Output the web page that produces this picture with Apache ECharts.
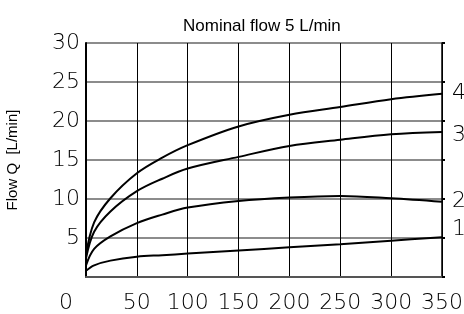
<!DOCTYPE html>
<html>
<head>
<meta charset="utf-8">
<script src="https://cdn.jsdelivr.net/npm/echarts@6/dist/echarts.min.js"></script>
<style>
  html, body { margin: 0; padding: 0; background: #fff; }
  #chart { width: 464px; height: 314px; }
</style>
</head>
<body>
<div id="chart"></div>
<script>
  // flow curves (x = pressure, y = flow Q)
  var xs = [0, 8, 24, 50, 75, 100, 150, 200, 250, 300, 350];
  var curve1 = [0.8, 1.5, 2.1, 2.6, 2.8, 3.0, 3.4, 3.8, 4.2, 4.65, 5.1];
  var curve2 = [1.5, 3.6, 5.2, 6.9, 8.0, 8.9, 9.75, 10.2, 10.4, 10.1, 9.65];
  var curve3 = [2.4, 5.8, 8.4, 11.0, 12.6, 13.9, 15.4, 16.8, 17.6, 18.3, 18.6];
  var curve4 = [2.8, 7.0, 10.1, 13.3, 15.3, 16.9, 19.3, 20.8, 21.8, 22.8, 23.5];
  var curveNames = ['1', '2', '3', '4'];
  var endOffsets = [[0, -8], [0, 0], [0, 3], [0, 0]];

  var digitFont = 'DejaVu Sans';

  function pairs(ys) {
    var out = [];
    for (var i = 0; i < xs.length; i++) {
      out.push([xs[i], ys[i]]);
    }
    return out;
  }

  var allCurves = [curve1, curve2, curve3, curve4];
  var series = [];
  for (var i = 0; i < allCurves.length; i++) {
    series.push({
      name: curveNames[i],
      type: 'line',
      smooth: 0.35,
      showSymbol: false,
      silent: true,
      lineStyle: { color: '#000', width: 2 },
      endLabel: {
        show: true,
        formatter: '{a}',
        distance: 10,
        offset: endOffsets[i],
        color: '#000',
        fontFamily: digitFont,
        fontWeight: 200,
        fontSize: 22
      },
      data: pairs(allCurves[i])
    });
  }

  var chart = echarts.init(document.getElementById('chart'));
  chart.setOption({
    animation: false,
    title: {
      text: 'Nominal flow 5 L/min',
      left: 178,
      top: 13,
      textStyle: { fontFamily: 'Liberation Sans', fontSize: 17, fontWeight: 'normal', color: '#000' }
    },
    grid: { left: 86, right: 22, top: 43, bottom: 37, outerBoundsMode: 'none' },
    xAxis: {
      type: 'value',
      min: 0,
      max: 350,
      interval: 50,
      axisLine: { lineStyle: { color: '#555', width: 2 } },
      axisTick: { show: false },
      splitLine: { show: true, lineStyle: { color: '#000', width: 1 } },
      axisLabel: {
        margin: 15,
        color: '#000',
        fontFamily: digitFont,
        fontWeight: 200,
        fontSize: 22,
        formatter: function (v) {
          return v === 0 ? '{z|0}' : String(v);
        },
        rich: { z: { fontFamily: digitFont, fontWeight: 200, fontSize: 22, color: '#000', padding: [0, 40, 0, 0] } }
      }
    },
    yAxis: [{
      type: 'value',
      min: 0,
      max: 30,
      interval: 5,
      name: 'Flow Q  [L/min]',
      nameLocation: 'middle',
      nameGap: 66,
      nameTextStyle: { fontFamily: 'Liberation Sans', fontSize: 15, color: '#000' },
      axisLine: { show: true, lineStyle: { color: '#000', width: 2 } },
      axisTick: { show: false },
      splitLine: { show: true, lineStyle: { color: '#666', width: 1.5 } },
      axisLabel: {
        margin: 6,
        color: '#000',
        fontFamily: digitFont,
        fontWeight: 200,
        fontSize: 22,
        formatter: function (v) {
          return v === 0 ? '' : String(v);
        }
      }
    }, {
      type: 'value',
      position: 'right',
      min: 0,
      max: 30,
      interval: 5,
      axisLine: { show: true, lineStyle: { color: '#000', width: 1.5 } },
      axisTick: { show: true, inside: false, length: 3, lineStyle: { color: '#000', width: 2 } },
      axisLabel: { show: false },
      splitLine: { show: false }
    }],
    series: series
  });
</script>
</body>
</html>
